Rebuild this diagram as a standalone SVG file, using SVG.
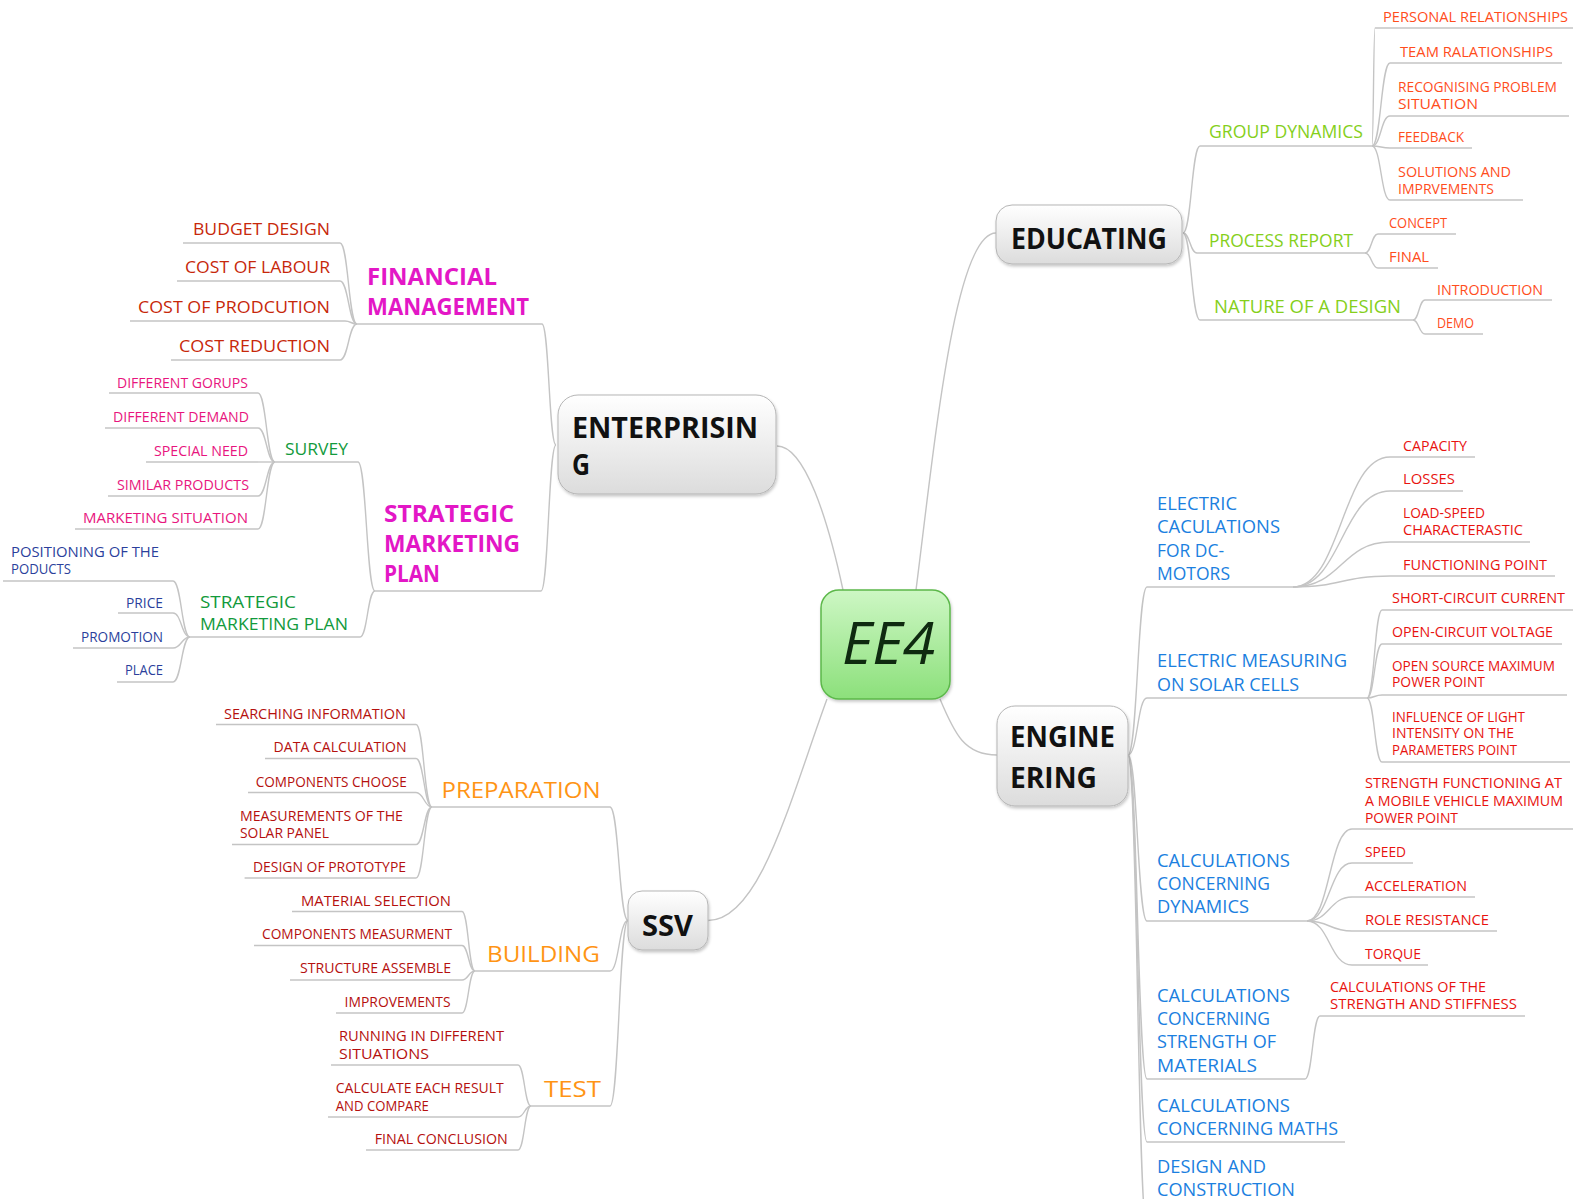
<svg xmlns="http://www.w3.org/2000/svg" width="1573" height="1199" viewBox="0 0 1573 1199">
<defs>
<linearGradient id="gNode" x1="0" y1="0" x2="0" y2="1"><stop offset="0" stop-color="#ffffff"/><stop offset="1" stop-color="#dcdcdc"/></linearGradient>
<linearGradient id="gCenter" x1="0" y1="0" x2="0" y2="1"><stop offset="0" stop-color="#cdf7c4"/><stop offset="1" stop-color="#8ce07b"/></linearGradient>
<filter id="sh" x="-20%" y="-20%" width="140%" height="150%"><feDropShadow dx="1" dy="2" stdDeviation="1.5" flood-color="#000" flood-opacity="0.22"/></filter>
</defs>
<style>
text{font-family:"Open Sans","DejaVu Sans",sans-serif}
.c{fill:none;stroke:#c4c4c4;stroke-width:1.4}
.ul{stroke:#c4c4c4;stroke-width:1.4}
.box{fill:url(#gNode);stroke:#b5b5b5;stroke-width:1;filter:url(#sh)}
.nd{font-size:28px;font-weight:700;fill:#111}
.mg{font-size:24px;font-weight:700;fill:#e317c6}
.fr{font-size:16.5px;fill:#c7280a}
.gr{font-size:16.5px;fill:#129a3c}
.pk{font-size:14px;fill:#e8157e}
.nv{font-size:14px;fill:#2b3f9c}
.yg{font-size:18.5px;fill:#85cf1b}
.or{font-size:14px;fill:#ff4d1c}
.bl{font-size:18.5px;fill:#1b7fe0}
.rd{font-size:14px;fill:#e8130f}
.og{font-size:22px;fill:#ff9414}
.dr{font-size:14px;fill:#b5100e}
</style>

<g id="connectors">
<path class="c" d="M777,446 C805,446 828,520 843,590"/>
<path class="c" d="M916,590 C935,440 955,233 996,233"/>
<path class="c" d="M827,699 C790,800 760,920.5 708,920.5"/>
<path class="c" d="M940,699 C955,735 965,755 997,755"/>
<path class="c" d="M556,445 C549,445 549,324 542,324"/>
<path class="c" d="M556,445 C548.5,445 548.5,591 541,591"/>
<path class="c" d="M357,324 C348.5,324 348.5,243 340,243"/>
<path class="c" d="M357,324 C348.5,324 348.5,281 340,281"/>
<path class="c" d="M357,324 C351,324 351,321 345,321"/>
<path class="c" d="M357,324 C348.5,324 348.5,360 340,360"/>
<path class="c" d="M375,591 C366.5,591 366.5,462 358,462"/>
<path class="c" d="M375,591 C367.5,591 367.5,637 360,637"/>
<path class="c" d="M275,462 C266.5,462 266.5,393 258,393"/>
<path class="c" d="M275,462 C266.5,462 266.5,428 258,428"/>
<path class="c" d="M275,462 L258,462"/>
<path class="c" d="M275,462 C266.5,462 266.5,496 258,496"/>
<path class="c" d="M275,462 C266.5,462 266.5,529 258,529"/>
<path class="c" d="M190,637 C181.5,637 181.5,581 173,581"/>
<path class="c" d="M190,637 C181.5,637 181.5,613 173,613"/>
<path class="c" d="M190,637 C181.5,637 181.5,648 173,648"/>
<path class="c" d="M190,637 C181.5,637 181.5,682 173,682"/>
<path class="c" d="M1183,233 C1191.5,233 1191.5,146 1200,146"/>
<path class="c" d="M1183,233 C1190,233 1190,253 1197,253"/>
<path class="c" d="M1183,233 C1191.5,233 1191.5,320 1200,320"/>
<path class="c" d="M1372,146 C1373.5,146 1373.5,28 1375,28"/>
<path class="c" d="M1372,146 C1381,146 1381,63 1390,63"/>
<path class="c" d="M1372,146 C1381,146 1381,116 1390,116"/>
<path class="c" d="M1372,146 C1381,146 1381,148 1390,148"/>
<path class="c" d="M1372,146 C1381,146 1381,200 1390,200"/>
<path class="c" d="M1365,253 C1371.5,253 1371.5,234 1378,234"/>
<path class="c" d="M1365,253 C1371.5,253 1371.5,268 1378,268"/>
<path class="c" d="M1413,320 C1419,320 1419,300 1425,300"/>
<path class="c" d="M1413,320 C1419,320 1419,334 1425,334"/>
<path class="c" d="M1128,755 C1137.5,755 1137.5,587 1147,587"/>
<path class="c" d="M1128,755 C1137.5,755 1137.5,698 1147,698"/>
<path class="c" d="M1128,755 C1137.5,755 1137.5,921 1147,921"/>
<path class="c" d="M1128,755 C1137.5,755 1137.5,1079 1147,1079"/>
<path class="c" d="M1128,755 C1137.5,755 1137.5,1142 1147,1142"/>
<path class="c" d="M1128,755 C1137.5,755 1137.5,1230 1147,1230"/>
<path class="c" d="M1293,587 C1341.5,587 1341.5,457 1390,457"/>
<path class="c" d="M1293,587 C1341.5,587 1341.5,491 1390,491"/>
<path class="c" d="M1293,587 C1341.5,587 1341.5,542 1390,542"/>
<path class="c" d="M1293,587 C1341.5,587 1341.5,576 1390,576"/>
<path class="c" d="M1367,698 C1374.5,698 1374.5,610 1382,610"/>
<path class="c" d="M1367,698 C1374.5,698 1374.5,644 1382,644"/>
<path class="c" d="M1367,698 C1374.5,698 1374.5,695 1382,695"/>
<path class="c" d="M1367,698 C1374.5,698 1374.5,762 1382,762"/>
<path class="c" d="M1307,921 C1329.5,921 1329.5,829 1352,829"/>
<path class="c" d="M1307,921 C1329.5,921 1329.5,863 1352,863"/>
<path class="c" d="M1307,921 C1329.5,921 1329.5,897 1352,897"/>
<path class="c" d="M1307,921 C1329.5,921 1329.5,931 1352,931"/>
<path class="c" d="M1307,921 C1329.5,921 1329.5,965 1352,965"/>
<path class="c" d="M1305,1079 C1312.5,1079 1312.5,1016 1320,1016"/>
<path class="c" d="M628,920.5 C619,920.5 619,807 610,807"/>
<path class="c" d="M628,920.5 C619,920.5 619,971 610,971"/>
<path class="c" d="M628,920.5 C619,920.5 619,1106 610,1106"/>
<path class="c" d="M432,807 C424,807 424,724.5 416,724.5"/>
<path class="c" d="M432,807 C424,807 424,758.5 416,758.5"/>
<path class="c" d="M432,807 C424,807 424,792.5 416,792.5"/>
<path class="c" d="M432,807 C424,807 424,844.5 416,844.5"/>
<path class="c" d="M432,807 C424,807 424,878 416,878"/>
<path class="c" d="M475,971 C468.5,971 468.5,911.5 462,911.5"/>
<path class="c" d="M475,971 C468.5,971 468.5,945.5 462,945.5"/>
<path class="c" d="M475,971 C468.5,971 468.5,980 462,980"/>
<path class="c" d="M475,971 C468.5,971 468.5,1013 462,1013"/>
<path class="c" d="M531,1106 C524.5,1106 524.5,1065 518,1065"/>
<path class="c" d="M531,1106 C524.5,1106 524.5,1117 518,1117"/>
<path class="c" d="M531,1106 C524.5,1106 524.5,1150 518,1150"/>
</g>

<g id="ee4">
<rect x="821" y="590" width="129" height="109" rx="18" fill="url(#gCenter)" stroke="#5cb84a" stroke-width="1.5" filter="url(#sh)"/>
<text x="842" y="664" font-size="58" font-style="italic" fill="#0f2a10" textLength="93" lengthAdjust="spacingAndGlyphs">EE4</text>
</g>

<g id="enterprising">
<rect class="box" x="558" y="395" width="218" height="99" rx="20"/>
<text class="nd" x="572" y="438" textLength="186" lengthAdjust="spacingAndGlyphs">ENTERPRISIN</text>
<text class="nd" x="572" y="475" textLength="18" lengthAdjust="spacingAndGlyphs">G</text>
</g>
<g id="educating">
<rect class="box" x="996" y="205" width="186" height="59" rx="16"/>
<text class="nd" x="1011" y="249" font-size="30" textLength="156" lengthAdjust="spacingAndGlyphs">EDUCATING</text>
</g>
<g id="engineering">
<rect class="box" x="997" y="706" width="131" height="100" rx="18"/>
<text class="nd" x="1010" y="747" textLength="105" lengthAdjust="spacingAndGlyphs">ENGINE</text>
<text class="nd" x="1010" y="788" textLength="87" lengthAdjust="spacingAndGlyphs">ERING</text>
</g>
<g id="ssv">
<rect class="box" x="628" y="891" width="80" height="59" rx="14"/>
<text class="nd" x="642" y="935.5" font-size="30" textLength="51" lengthAdjust="spacingAndGlyphs">SSV</text>
</g>

<g id="financial-management">
<text class="mg" x="367" y="285" textLength="130" lengthAdjust="spacingAndGlyphs">FINANCIAL</text>
<text class="mg" x="367" y="315" textLength="162" lengthAdjust="spacingAndGlyphs">MANAGEMENT</text>
<line class="ul" x1="357" y1="324" x2="542" y2="324"/>
</g>
<g id="budget-design"><text class="fr" x="193" y="235" textLength="137" lengthAdjust="spacingAndGlyphs">BUDGET DESIGN</text><line class="ul" x1="183" y1="243" x2="340" y2="243"/></g>
<g id="cost-of-labour"><text class="fr" x="185" y="273" textLength="145" lengthAdjust="spacingAndGlyphs">COST OF LABOUR</text><line class="ul" x1="177" y1="281" x2="340" y2="281"/></g>
<g id="cost-of-production"><text class="fr" x="138" y="313" textLength="192" lengthAdjust="spacingAndGlyphs">COST OF PRODCUTION</text><line class="ul" x1="130" y1="321" x2="345" y2="321"/></g>
<g id="cost-reduction"><text class="fr" x="179" y="352" textLength="151" lengthAdjust="spacingAndGlyphs">COST REDUCTION</text><line class="ul" x1="171" y1="360" x2="340" y2="360"/></g>

<g id="strategic-marketing-plan-main">
<text class="mg" x="384" y="522" textLength="130" lengthAdjust="spacingAndGlyphs">STRATEGIC</text>
<text class="mg" x="384" y="552" textLength="136" lengthAdjust="spacingAndGlyphs">MARKETING</text>
<text class="mg" x="384" y="582" textLength="56" lengthAdjust="spacingAndGlyphs">PLAN</text>
<line class="ul" x1="375" y1="591" x2="541" y2="591"/>
</g>
<g id="survey"><text class="gr" x="285" y="455" textLength="63" lengthAdjust="spacingAndGlyphs">SURVEY</text><line class="ul" x1="275" y1="462" x2="358" y2="462"/></g>
<g id="different-groups"><text class="pk" x="117" y="388" textLength="131" lengthAdjust="spacingAndGlyphs">DIFFERENT GORUPS</text><line class="ul" x1="109" y1="393" x2="258" y2="393"/></g>
<g id="different-demand"><text class="pk" x="113" y="422" textLength="136" lengthAdjust="spacingAndGlyphs">DIFFERENT DEMAND</text><line class="ul" x1="105" y1="428" x2="258" y2="428"/></g>
<g id="special-need"><text class="pk" x="154" y="456" textLength="94" lengthAdjust="spacingAndGlyphs">SPECIAL NEED</text><line class="ul" x1="146" y1="462" x2="258" y2="462"/></g>
<g id="similar-products"><text class="pk" x="117" y="490" textLength="132" lengthAdjust="spacingAndGlyphs">SIMILAR PRODUCTS</text><line class="ul" x1="108" y1="496" x2="258" y2="496"/></g>
<g id="marketing-situation"><text class="pk" x="83" y="523" textLength="165" lengthAdjust="spacingAndGlyphs">MARKETING SITUATION</text><line class="ul" x1="75" y1="529" x2="258" y2="529"/></g>

<g id="strategic-marketing-plan-sub">
<text class="gr" x="200" y="608" textLength="96" lengthAdjust="spacingAndGlyphs">STRATEGIC</text>
<text class="gr" x="200" y="630" textLength="148" lengthAdjust="spacingAndGlyphs">MARKETING PLAN</text>
<line class="ul" x1="190" y1="637" x2="360" y2="637"/>
</g>
<g id="positioning"><text class="nv" x="11" y="557" textLength="148" lengthAdjust="spacingAndGlyphs">POSITIONING OF THE</text><text class="nv" x="11" y="574" textLength="60" lengthAdjust="spacingAndGlyphs">PODUCTS</text><line class="ul" x1="3" y1="581" x2="173" y2="581"/></g>
<g id="price"><text class="nv" x="126" y="608" textLength="37" lengthAdjust="spacingAndGlyphs">PRICE</text><line class="ul" x1="118" y1="613" x2="173" y2="613"/></g>
<g id="promotion"><text class="nv" x="81" y="642" textLength="82" lengthAdjust="spacingAndGlyphs">PROMOTION</text><line class="ul" x1="73" y1="648" x2="173" y2="648"/></g>
<g id="place"><text class="nv" x="125" y="675" textLength="38" lengthAdjust="spacingAndGlyphs">PLACE</text><line class="ul" x1="117" y1="682" x2="173" y2="682"/></g>

<g id="group-dynamics"><text class="yg" x="1209" y="138" textLength="154" lengthAdjust="spacingAndGlyphs">GROUP DYNAMICS</text><line class="ul" x1="1200" y1="146" x2="1372" y2="146"/></g>
<g id="process-report"><text class="yg" x="1209" y="247" textLength="144" lengthAdjust="spacingAndGlyphs">PROCESS REPORT</text><line class="ul" x1="1197" y1="253" x2="1365" y2="253"/></g>
<g id="nature-of-a-design"><text class="yg" x="1214" y="313" textLength="187" lengthAdjust="spacingAndGlyphs">NATURE OF A DESIGN</text><line class="ul" x1="1200" y1="320" x2="1413" y2="320"/></g>
<g id="personal-relationships"><text class="or" x="1383" y="22" textLength="185" lengthAdjust="spacingAndGlyphs">PERSONAL RELATIONSHIPS</text><line class="ul" x1="1375" y1="28" x2="1573" y2="28"/></g>
<g id="team-relationships"><text class="or" x="1400" y="57" textLength="153" lengthAdjust="spacingAndGlyphs">TEAM RALATIONSHIPS</text><line class="ul" x1="1390" y1="63" x2="1562" y2="63"/></g>
<g id="recognising"><text class="or" x="1398" y="92" textLength="159" lengthAdjust="spacingAndGlyphs">RECOGNISING PROBLEM</text><text class="or" x="1398" y="109" textLength="80" lengthAdjust="spacingAndGlyphs">SITUATION</text><line class="ul" x1="1390" y1="116" x2="1569" y2="116"/></g>
<g id="feedback"><text class="or" x="1398" y="142" textLength="66" lengthAdjust="spacingAndGlyphs">FEEDBACK</text><line class="ul" x1="1390" y1="148" x2="1472" y2="148"/></g>
<g id="solutions"><text class="or" x="1398" y="177" textLength="113" lengthAdjust="spacingAndGlyphs">SOLUTIONS AND</text><text class="or" x="1398" y="194" textLength="96" lengthAdjust="spacingAndGlyphs">IMPRVEMENTS</text><line class="ul" x1="1390" y1="200" x2="1523" y2="200"/></g>
<g id="concept"><text class="or" x="1389" y="228" textLength="58" lengthAdjust="spacingAndGlyphs">CONCEPT</text><line class="ul" x1="1378" y1="234" x2="1456" y2="234"/></g>
<g id="final"><text class="or" x="1389" y="262" textLength="40" lengthAdjust="spacingAndGlyphs">FINAL</text><line class="ul" x1="1378" y1="268" x2="1438" y2="268"/></g>
<g id="introduction"><text class="or" x="1437" y="295" textLength="106" lengthAdjust="spacingAndGlyphs">INTRODUCTION</text><line class="ul" x1="1425" y1="300" x2="1552" y2="300"/></g>
<g id="demo"><text class="or" x="1437" y="328" textLength="37" lengthAdjust="spacingAndGlyphs">DEMO</text><line class="ul" x1="1425" y1="334" x2="1483" y2="334"/></g>

<g id="electric-calculations">
<text class="bl" x="1157" y="510" textLength="80" lengthAdjust="spacingAndGlyphs">ELECTRIC</text>
<text class="bl" x="1157" y="533" textLength="123" lengthAdjust="spacingAndGlyphs">CACULATIONS</text>
<text class="bl" x="1157" y="557" textLength="67" lengthAdjust="spacingAndGlyphs">FOR DC-</text>
<text class="bl" x="1157" y="580" textLength="73" lengthAdjust="spacingAndGlyphs">MOTORS</text>
<line class="ul" x1="1147" y1="587" x2="1293" y2="587"/>
</g>
<g id="electric-measuring">
<text class="bl" x="1157" y="667" textLength="190" lengthAdjust="spacingAndGlyphs">ELECTRIC MEASURING</text>
<text class="bl" x="1157" y="691" textLength="142" lengthAdjust="spacingAndGlyphs">ON SOLAR CELLS</text>
<line class="ul" x1="1147" y1="698" x2="1367" y2="698"/>
</g>
<g id="calc-dynamics">
<text class="bl" x="1157" y="867" textLength="133" lengthAdjust="spacingAndGlyphs">CALCULATIONS</text>
<text class="bl" x="1157" y="890" textLength="113" lengthAdjust="spacingAndGlyphs">CONCERNING</text>
<text class="bl" x="1157" y="913" textLength="92" lengthAdjust="spacingAndGlyphs">DYNAMICS</text>
<line class="ul" x1="1147" y1="921" x2="1307" y2="921"/>
</g>
<g id="calc-strength">
<text class="bl" x="1157" y="1002" textLength="133" lengthAdjust="spacingAndGlyphs">CALCULATIONS</text>
<text class="bl" x="1157" y="1025" textLength="113" lengthAdjust="spacingAndGlyphs">CONCERNING</text>
<text class="bl" x="1157" y="1048" textLength="119" lengthAdjust="spacingAndGlyphs">STRENGTH OF</text>
<text class="bl" x="1157" y="1072" textLength="100" lengthAdjust="spacingAndGlyphs">MATERIALS</text>
<line class="ul" x1="1147" y1="1079" x2="1305" y2="1079"/>
</g>
<g id="calc-maths">
<text class="bl" x="1157" y="1112" textLength="133" lengthAdjust="spacingAndGlyphs">CALCULATIONS</text>
<text class="bl" x="1157" y="1135" textLength="181" lengthAdjust="spacingAndGlyphs">CONCERNING MATHS</text>
<line class="ul" x1="1147" y1="1142" x2="1345" y2="1142"/>
</g>
<g id="design-construction">
<text class="bl" x="1157" y="1173" textLength="109" lengthAdjust="spacingAndGlyphs">DESIGN AND</text>
<text class="bl" x="1157" y="1196" textLength="138" lengthAdjust="spacingAndGlyphs">CONSTRUCTION</text>
</g>

<g id="capacity"><text class="rd" x="1403" y="451" textLength="64" lengthAdjust="spacingAndGlyphs">CAPACITY</text><line class="ul" x1="1390" y1="457" x2="1475" y2="457"/></g>
<g id="losses"><text class="rd" x="1403" y="484" textLength="52" lengthAdjust="spacingAndGlyphs">LOSSES</text><line class="ul" x1="1390" y1="491" x2="1463" y2="491"/></g>
<g id="load-speed"><text class="rd" x="1403" y="518" textLength="82" lengthAdjust="spacingAndGlyphs">LOAD-SPEED</text><text class="rd" x="1403" y="535" textLength="120" lengthAdjust="spacingAndGlyphs">CHARACTERASTIC</text><line class="ul" x1="1390" y1="542" x2="1530" y2="542"/></g>
<g id="functioning-point"><text class="rd" x="1403" y="570" textLength="144" lengthAdjust="spacingAndGlyphs">FUNCTIONING POINT</text><line class="ul" x1="1390" y1="576" x2="1555" y2="576"/></g>
<g id="short-circuit"><text class="rd" x="1392" y="603" textLength="173" lengthAdjust="spacingAndGlyphs">SHORT-CIRCUIT CURRENT</text><line class="ul" x1="1382" y1="610" x2="1573" y2="610"/></g>
<g id="open-circuit"><text class="rd" x="1392" y="637" textLength="161" lengthAdjust="spacingAndGlyphs">OPEN-CIRCUIT VOLTAGE</text><line class="ul" x1="1382" y1="644" x2="1562" y2="644"/></g>
<g id="open-source"><text class="rd" x="1392" y="671" textLength="163" lengthAdjust="spacingAndGlyphs">OPEN SOURCE MAXIMUM</text><text class="rd" x="1392" y="687" textLength="93" lengthAdjust="spacingAndGlyphs">POWER POINT</text><line class="ul" x1="1382" y1="695" x2="1567" y2="695"/></g>
<g id="influence"><text class="rd" x="1392" y="722" textLength="133" lengthAdjust="spacingAndGlyphs">INFLUENCE OF LIGHT</text><text class="rd" x="1392" y="738" textLength="122" lengthAdjust="spacingAndGlyphs">INTENSITY ON THE</text><text class="rd" x="1392" y="755" textLength="125" lengthAdjust="spacingAndGlyphs">PARAMETERS POINT</text><line class="ul" x1="1382" y1="762" x2="1570" y2="762"/></g>
<g id="strength-functioning"><text class="rd" x="1365" y="788" textLength="197" lengthAdjust="spacingAndGlyphs">STRENGTH FUNCTIONING AT</text><text class="rd" x="1365" y="806" textLength="198" lengthAdjust="spacingAndGlyphs">A MOBILE VEHICLE MAXIMUM</text><text class="rd" x="1365" y="823" textLength="93" lengthAdjust="spacingAndGlyphs">POWER POINT</text><line class="ul" x1="1352" y1="829" x2="1573" y2="829"/></g>
<g id="speed"><text class="rd" x="1365" y="857" textLength="41" lengthAdjust="spacingAndGlyphs">SPEED</text><line class="ul" x1="1352" y1="863" x2="1413" y2="863"/></g>
<g id="acceleration"><text class="rd" x="1365" y="891" textLength="102" lengthAdjust="spacingAndGlyphs">ACCELERATION</text><line class="ul" x1="1352" y1="897" x2="1475" y2="897"/></g>
<g id="role-resistance"><text class="rd" x="1365" y="925" textLength="124" lengthAdjust="spacingAndGlyphs">ROLE RESISTANCE</text><line class="ul" x1="1352" y1="931" x2="1497" y2="931"/></g>
<g id="torque"><text class="rd" x="1365" y="959" textLength="56" lengthAdjust="spacingAndGlyphs">TORQUE</text><line class="ul" x1="1352" y1="965" x2="1428" y2="965"/></g>
<g id="strength-stiffness"><text class="rd" x="1330" y="992" textLength="156" lengthAdjust="spacingAndGlyphs">CALCULATIONS OF THE</text><text class="rd" x="1330" y="1009" textLength="187" lengthAdjust="spacingAndGlyphs">STRENGTH AND STIFFNESS</text><line class="ul" x1="1320" y1="1016" x2="1525" y2="1016"/></g>

<g id="preparation"><text class="og" x="441.5" y="797.5" textLength="159" lengthAdjust="spacingAndGlyphs">PREPARATION</text><line class="ul" x1="432" y1="807" x2="610" y2="807"/></g>
<g id="building"><text class="og" x="487" y="962" textLength="113" lengthAdjust="spacingAndGlyphs">BUILDING</text><line class="ul" x1="475" y1="971" x2="610" y2="971"/></g>
<g id="test"><text class="og" x="544" y="1097" textLength="57" lengthAdjust="spacingAndGlyphs">TEST</text><line class="ul" x1="531" y1="1106" x2="610" y2="1106"/></g>
<g id="searching-information"><text class="dr" x="224" y="718.5" textLength="182" lengthAdjust="spacingAndGlyphs">SEARCHING INFORMATION</text><line class="ul" x1="216" y1="724.5" x2="416" y2="724.5"/></g>
<g id="data-calculation"><text class="dr" x="273.6" y="752" textLength="133" lengthAdjust="spacingAndGlyphs">DATA CALCULATION</text><line class="ul" x1="265" y1="758.5" x2="416" y2="758.5"/></g>
<g id="components-choose"><text class="dr" x="255.7" y="786.5" textLength="151" lengthAdjust="spacingAndGlyphs">COMPONENTS CHOOSE</text><line class="ul" x1="248" y1="792.5" x2="416" y2="792.5"/></g>
<g id="measurements"><text class="dr" x="240" y="820.5" textLength="163" lengthAdjust="spacingAndGlyphs">MEASUREMENTS OF THE</text><text class="dr" x="240" y="838" textLength="89" lengthAdjust="spacingAndGlyphs">SOLAR PANEL</text><line class="ul" x1="232" y1="844.5" x2="416" y2="844.5"/></g>
<g id="design-of-prototype"><text class="dr" x="253" y="871.5" textLength="153" lengthAdjust="spacingAndGlyphs">DESIGN OF PROTOTYPE</text><line class="ul" x1="244.6" y1="878" x2="416" y2="878"/></g>
<g id="material-selection"><text class="dr" x="301" y="905.5" textLength="150" lengthAdjust="spacingAndGlyphs">MATERIAL SELECTION</text><line class="ul" x1="292" y1="911.5" x2="462" y2="911.5"/></g>
<g id="components-measurment"><text class="dr" x="262" y="939" textLength="190" lengthAdjust="spacingAndGlyphs">COMPONENTS MEASURMENT</text><line class="ul" x1="254" y1="945.5" x2="462" y2="945.5"/></g>
<g id="structure-assemble"><text class="dr" x="300" y="973" textLength="151" lengthAdjust="spacingAndGlyphs">STRUCTURE ASSEMBLE</text><line class="ul" x1="290" y1="980" x2="462" y2="980"/></g>
<g id="improvements"><text class="dr" x="344.6" y="1007" textLength="106" lengthAdjust="spacingAndGlyphs">IMPROVEMENTS</text><line class="ul" x1="336" y1="1013" x2="462" y2="1013"/></g>
<g id="running"><text class="dr" x="339" y="1041" textLength="165" lengthAdjust="spacingAndGlyphs">RUNNING IN DIFFERENT</text><text class="dr" x="339" y="1058.5" textLength="90" lengthAdjust="spacingAndGlyphs">SITUATIONS</text><line class="ul" x1="331" y1="1065" x2="518" y2="1065"/></g>
<g id="calculate-each"><text class="dr" x="335.8" y="1093" textLength="168" lengthAdjust="spacingAndGlyphs">CALCULATE EACH RESULT</text><text class="dr" x="335.8" y="1110.5" textLength="93" lengthAdjust="spacingAndGlyphs">AND COMPARE</text><line class="ul" x1="328" y1="1117" x2="518" y2="1117"/></g>
<g id="final-conclusion"><text class="dr" x="374.7" y="1144" textLength="133" lengthAdjust="spacingAndGlyphs">FINAL CONCLUSION</text><line class="ul" x1="366" y1="1150" x2="518" y2="1150"/></g>
</svg>
